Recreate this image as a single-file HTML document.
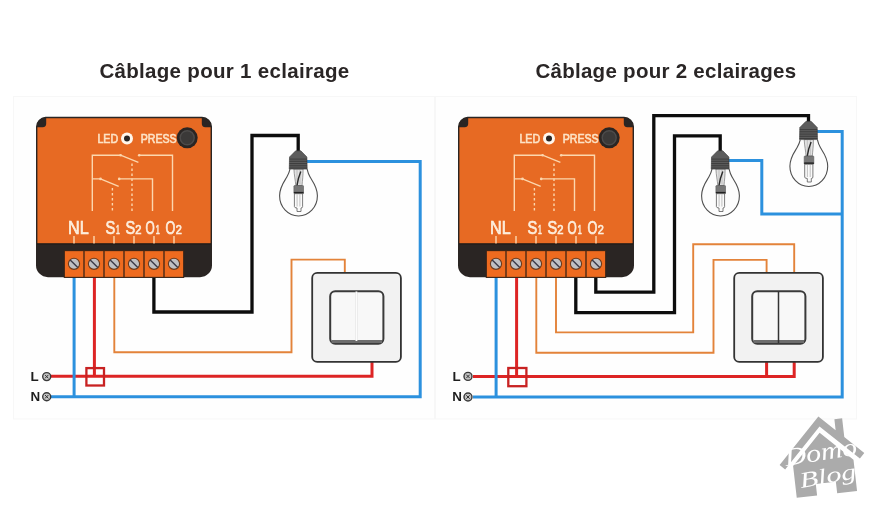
<!DOCTYPE html>
<html><head><meta charset="utf-8"><title>Câblage</title>
<style>
html,body{margin:0;padding:0;background:#fff;}
body{width:879px;height:516px;overflow:hidden;position:relative;font-family:"Liberation Sans",sans-serif;}
svg{position:absolute;left:0;top:0;filter:blur(0.3px);}
.t{font-family:"Liberation Sans",sans-serif;}
</style></head><body>
<svg width="879" height="516" viewBox="0 0 879 516">
<defs>
 <g id="mod">
  <!-- outer dark body -->
  <path d="M45.5,116.8 H202 A10,10 0 0 1 212,126.8 V265 A12,12 0 0 1 200,277.2 H48 A12,12 0 0 1 36,265 V126.8 A10,10 0 0 1 45.5,116.8 Z" fill="#2a2523"/>
  <!-- orange face -->
  <path d="M37.4,243.5 V127 A8.6,8.6 0 0 1 46,118.3 H202 A8.6,8.6 0 0 1 210.6,127 V243.5 Z" fill="#E76A23"/>
  <path d="M37,243.9 H211" stroke="#1b1715" stroke-width="1"/>
  <!-- corner blobs -->
  <path d="M36.5,127.2 A10,10 0 0 1 46.2,117.3 V123.5 A3.6,3.6 0 0 1 42.6,127.2 Z" fill="#2a2523"/>
  <path d="M211.5,127.2 A10,10 0 0 0 201.8,117.3 V123.5 A3.6,3.6 0 0 0 205.4,127.2 Z" fill="#2a2523"/>
  <!-- LED / PRESS -->
  <text class="t" x="97.4" y="143" font-size="12" fill="#fde3c6" stroke="#fde3c6" stroke-width="0.6" textLength="20.8" lengthAdjust="spacingAndGlyphs">LED</text>
  <circle cx="127" cy="138.5" r="6" fill="#fff6ec"/>
  <circle cx="127" cy="138.5" r="3" fill="#2a2523"/>
  <text class="t" x="140.7" y="143" font-size="12" fill="#fde3c6" stroke="#fde3c6" stroke-width="0.6" textLength="35.9" lengthAdjust="spacingAndGlyphs">PRESS</text>
  <circle cx="187.2" cy="137.8" r="10.5" fill="#2a2523"/>
  <circle cx="187.2" cy="137.8" r="7" fill="#3b3938" stroke="#4d4b4a" stroke-width="1.4"/>
  <!-- relay lines -->
  <g stroke="#fcd7ae" stroke-width="1.4" fill="none">
   <path d="M92.3,211 V155.2 H120.6 L138.4,162.3"/>
   <path d="M139.2,155.2 H172.5 V211"/>
   <path d="M92.3,178.9 H100.5 L118.7,186.4"/>
   <path d="M119.2,178.9 H152.5 V211"/>
   <path d="M132,163.5 V211" stroke-dasharray="2.6,2.4"/>
   <path d="M112.4,188 V211" stroke-dasharray="2.6,2.4"/>
   <path d="M74,236 V243.5 M94,236 V243.5 M114,236 V243.5 M134,236 V243.5 M154,236 V243.5 M174,236 V243.5"/>
  </g>
  <g fill="#fcd7ae">
   <circle cx="120.6" cy="155.2" r="1.3"/><circle cx="139.2" cy="155.2" r="1.3"/>
   <circle cx="100.5" cy="178.9" r="1.3"/><circle cx="119.2" cy="178.9" r="1.3"/>
  </g>
  <!-- labels -->
  <g class="t" fill="#fdeedd" stroke="#fdeedd" stroke-width="0.7" font-size="17.5">
   <text x="68.1" y="233.8" textLength="20.7" lengthAdjust="spacingAndGlyphs">NL</text>
   <text x="105.6" y="233.7" textLength="9.8" lengthAdjust="spacingAndGlyphs">S</text>
   <text x="116" y="233.7" font-size="12.5" textLength="3.8" lengthAdjust="spacingAndGlyphs">1</text>
   <text x="125.6" y="233.7" textLength="9.7" lengthAdjust="spacingAndGlyphs">S</text>
   <text x="135.3" y="233.7" font-size="12.5" textLength="6.2" lengthAdjust="spacingAndGlyphs">2</text>
   <text x="145.6" y="233.7" textLength="9.2" lengthAdjust="spacingAndGlyphs">O</text>
   <text x="155.8" y="233.7" font-size="12.5" textLength="4" lengthAdjust="spacingAndGlyphs">1</text>
   <text x="165.5" y="233.7" textLength="9.8" lengthAdjust="spacingAndGlyphs">O</text>
   <text x="175.8" y="233.7" font-size="12.5" textLength="6.1" lengthAdjust="spacingAndGlyphs">2</text>
  </g>
  <!-- terminal block -->
  <rect x="64.3" y="250.6" width="119.4" height="26.8" fill="#EF6B1F" stroke="#3a2418" stroke-width="1.1"/>
  <g stroke="#4a2a16" stroke-width="1.4">
   <path d="M84,250.6 V277.4 M104,250.6 V277.4 M124,250.6 V277.4 M144,250.6 V277.4 M164,250.6 V277.4"/>
  </g>
  <g id="screws">
   <g id="sc"><circle cx="74" cy="263.8" r="5.6" fill="#bfc0c4" stroke="#6b3b1c" stroke-width="1.1"/><path d="M70.2,260 L77.8,267.6" stroke="#3b3a48" stroke-width="1.4"/></g>
   <use href="#sc" x="20"/><use href="#sc" x="40"/><use href="#sc" x="60"/><use href="#sc" x="80"/><use href="#sc" x="100"/>
  </g>
 </g>

 <g id="bulb">
  <g transform="translate(0,0.7)">
  <!-- glass, origin: socket top center at (0,0) -->
  <path d="M-8.2,17.6 C-8.8,20.3 -9.8,22.8 -11.5,25.8 C-13.5,29.3 -18.6,35.3 -18.6,44.3 C-18.6,55.8 -10,64.5 0.3,64.5 C10.6,64.5 19.2,55.8 19.2,44.3 C19.2,35.3 14,29.3 12,25.8 C10.3,22.8 9.5,20.3 8.9,17.6" fill="#fdfdfd" stroke="#4f4f4f" stroke-width="1.1"/>
  <!-- inner capsule -->
  <path d="M-4.3,17.5 C-4,24 -2.8,29 -2.4,34 H3.8 C4.2,29 5,24 4.9,17.5 Z" fill="#e2e2e2" stroke="#777" stroke-width="0.7"/>
  <path d="M-1.2,18 V33 M1.8,18 V33" stroke="#aaa" stroke-width="0.6"/>
  <path d="M2.6,20 L0.2,27 L-1.2,34" stroke="#2a2a2a" stroke-width="1.4" fill="none"/>
  <rect x="-4.3" y="34" width="9.6" height="8.2" rx="0.8" fill="#777" stroke="#555" stroke-width="0.6"/>
  <path d="M-4.3,41.2 H5.3" stroke="#222" stroke-width="1.6"/>
  <path d="M-3.8,42.2 V55 Q-3.8,56.5 -1.2,56.5 V60 H2.8 V56.5 Q4.4,56.5 4.4,55 V42.2 Z" fill="#fafafa" stroke="#5a5a5a" stroke-width="0.8"/>
  <path d="M-1.1,43 V55 M1.7,43 V55" stroke="#999" stroke-width="0.6"/>
  </g>
  <!-- socket -->
  <path d="M-2.5,0 H2.6 L8.7,6.2 L8.95,18.3 H-8.95 L-8.7,6.2 Z" fill="#5c5c5c" stroke="#3a3a3a" stroke-width="0.6"/>
  <path d="M-8.7,8.3 H8.8 M-8.75,10.5 H8.8 M-8.8,12.8 H8.85 M-8.85,15 H8.9 M-8.9,17.2 H8.9" stroke="#333" stroke-width="0.75"/>
 </g>

 <g id="sw">
  <rect x="312.2" y="272.9" width="88.7" height="89" rx="5" fill="#f2f2f2" stroke="#333" stroke-width="1.8"/>
  <rect x="330.2" y="291.2" width="53.2" height="52.6" rx="5" fill="#f8f8f8" stroke="#3a3a3a" stroke-width="2"/>
  <path d="M331.5,341.6 H382" stroke="#6d6d6d" stroke-width="3"/>
 </g>

 <g id="lnterm">
  <circle cx="0" cy="0" r="4" fill="#c4c4c4" stroke="#3a3a3a" stroke-width="1.4"/>
  <path d="M-1.7,-1.7 L1.7,1.7 M-1.7,1.7 L1.7,-1.7" stroke="#333" stroke-width="1"/>
 </g>
</defs>

<!-- faint panels -->
<rect x="13.5" y="96.5" width="421" height="322.5" fill="#fefefe" stroke="#f7f7f7" stroke-width="1"/>
<rect x="435.5" y="96.5" width="421" height="322.5" fill="#fefefe" stroke="#f7f7f7" stroke-width="1"/>

<!-- titles -->
<text class="t" x="99.4" y="77.7" font-size="20.5" font-weight="bold" fill="#2a2626" letter-spacing="0.31">Câblage pour 1 eclairage</text>
<text class="t" x="535.4" y="77.7" font-size="20.5" font-weight="bold" fill="#2a2626" letter-spacing="0.28">Câblage pour 2 eclairages</text>

<!-- ============ LEFT DIAGRAM ============ -->
<g fill="none" stroke-linejoin="miter" stroke-linecap="butt">
 <path d="M114.3,277 V352.2 H291.5 V259.6 H344.8 V273" stroke="#E3833A" stroke-width="1.9"/>
 <path d="M153.9,277 V312 H252 V135.5 H298.2 V151.5" stroke="#0d0d0d" stroke-width="3.3"/>
  <path d="M51,396.7 H420.2 V161.5 H306" stroke="#2C91DE" stroke-width="3"/>
 <path d="M94.4,277 V376.3" stroke="#DD2424" stroke-width="3"/>
 <path d="M51,376.3 H372 V361" stroke="#DD2424" stroke-width="3"/>
 <path d="M74.1,277 V396.7" stroke="#2C91DE" stroke-width="3"/>
 <rect x="86.4" y="368.1" width="17.6" height="17.4" stroke="#C82222" stroke-width="2.3"/>
</g>
<use href="#mod"/>
<use href="#bulb" transform="translate(298.2,150.8)"/>
<use href="#sw"/>
<path d="M356.4,291.5 V341" stroke="#ffffff" stroke-width="1.2"/>
<path d="M355.6,291.5 V341 M357.4,291.5 V341" stroke="#dcdcdc" stroke-width="0.5"/>
<text class="t" x="30.6" y="381.2" font-size="13.4" font-weight="bold" fill="#1e1e1e">L</text>
<text class="t" x="30.5" y="401.3" font-size="13.4" font-weight="bold" fill="#1e1e1e">N</text>
<use href="#lnterm" transform="translate(46.7,376.6)"/>
<use href="#lnterm" transform="translate(46.7,396.7)"/>

<!-- ============ RIGHT DIAGRAM ============ -->
<g fill="none" stroke-linejoin="miter" stroke-linecap="butt">
 <path d="M536.3,277 V352.7 H713.5 V259.9 H766.6 V273" stroke="#E3833A" stroke-width="1.9"/>
 <path d="M556,277 V332.4 H693.2 V244.2 H794.2 V273" stroke="#E3833A" stroke-width="1.9"/>
 <path d="M575.8,277 V312.6 H674.5 V135.8 H720.2 V151" stroke="#0d0d0d" stroke-width="3.3"/>
 <path d="M595.8,277 V292.2 H653.8 V115.6 H808.5 V122" stroke="#0d0d0d" stroke-width="3.3"/>
  <path d="M473,397 H842.2 V131.5 H817" stroke="#2C91DE" stroke-width="3"/>
 <path d="M842.2,213.9 H761.8 V160.5 H728" stroke="#2C91DE" stroke-width="3"/>
 <path d="M516.6,277 V376.4" stroke="#DD2424" stroke-width="3"/>
 <path d="M473,376.4 H794.2 V361" stroke="#DD2424" stroke-width="3"/>
 <path d="M766.6,376.4 V361" stroke="#DD2424" stroke-width="3"/>
 <path d="M496.1,277 V397" stroke="#2C91DE" stroke-width="3"/>
 <rect x="508.3" y="368" width="18.1" height="18.2" stroke="#C82222" stroke-width="2.3"/>
</g>
<use href="#mod" transform="translate(422,0)"/>
<use href="#bulb" transform="translate(720.2,150.8)"/>
<use href="#bulb" transform="translate(808.5,121.3)"/>
<use href="#sw" transform="translate(422,0)"/>
<path d="M778.5,291.5 V343" stroke="#333" stroke-width="1.5"/>
<text class="t" x="452.5" y="381.2" font-size="13.4" font-weight="bold" fill="#1e1e1e">L</text>
<text class="t" x="452.3" y="401.3" font-size="13.4" font-weight="bold" fill="#1e1e1e">N</text>
<use href="#lnterm" transform="translate(468,376.4)"/>
<use href="#lnterm" transform="translate(468,397)"/>

<!-- logo -->
<g transform="rotate(-6.5 825 457)" fill="#ababab">
 <path d="M779,459.8 L823,416 L838.6,431.6 V420.5 H846.4 V439.4 L864.5,457.5 L859.5,462.5 L823,426 L784,464.8 Z"/>
 <path d="M792.3,462.3 L822.4,432.3 L853,462.9 V494.4 H833 V482.7 H812.8 V494.4 H792.3 Z"/>
</g>
<g fill="#fff" font-family="Liberation Serif" font-style="italic">
 <text x="0" y="0" font-size="25" transform="translate(786,466) rotate(-9)" textLength="73" lengthAdjust="spacingAndGlyphs">Domo</text>
 <text x="0" y="0" font-size="22" transform="translate(801,488) rotate(-10)" textLength="57" lengthAdjust="spacingAndGlyphs">Blog</text>
</g>
</svg>
</body></html>
